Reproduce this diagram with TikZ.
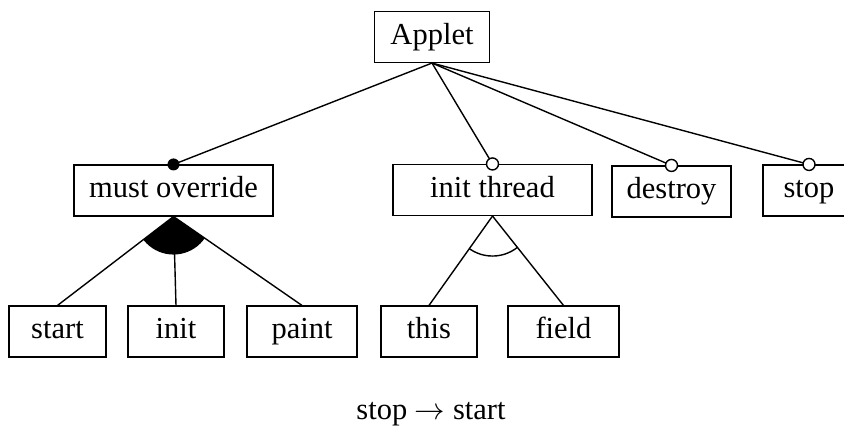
\documentclass[tikz,border=0pt]{standalone}
\usepackage{fontspec}
\setmainfont{Liberation Serif}
\begin{document}
\begin{tikzpicture}%
	[x=0.3934pt,
	y=-0.3934pt,
	feature/.style={draw=black, line width=0.5pt, minimum height=20pt, inner sep=0pt, text height=8.4pt, text depth=2.8pt, font=\fontsize{12}{14}\selectfont},
	edge/.style={color=black, line width=0.55pt},
	mandatory/.style={fill=black},
	optional/.style={fill=white, draw=black, line width=0.55pt}]
	\useasboundingbox (0,0) rectangle (844,436);
	%
	%% Features:
	%%
	\node[feature, minimum width=45.2pt] (applet) at (432,37) {Applet};
	\node[feature, minimum width=78.3pt] (override) at (173.5,190.5) {must override};
	\node[feature, minimum width=78.3pt] (thread) at (492.5,190) {init thread};
	\node[feature, minimum width=46.8pt] (destroy) at (671.5,191.5) {destroy};
	\node[feature, minimum width=36.2pt] (stop) at (809,190.5) {stop};
	\node[feature, minimum width=38.2pt] (start) at (57.5,331.5) {start};
	\node[feature, minimum width=37.8pt] (init) at (176,331.5) {init};
	\node[feature, minimum width=43.3pt] (paint) at (302,331.5) {paint};
	\node[feature, minimum width=37.8pt] (this) at (429,331.5) {this};
	\node[feature, minimum width=43.7pt] (field) at (563.5,331.5) {field};
	%%
	%% Edges from the root
	%%
	\draw[edge] (applet.south) -- (override.north);
	\draw[edge] (applet.south) -- (thread.north);
	\draw[edge] (applet.south) -- (destroy.north);
	\draw[edge] (applet.south) -- (stop.north);
	\fill[mandatory] (override.north) circle (6);
	\draw[optional] (thread.north) circle (6);
	\draw[optional] (destroy.north) circle (6);
	\draw[optional] (stop.north) circle (6);
	%%
	%% Or group
	%%
	\draw[edge] (override.south) -- (start.north);
	\draw[edge] (override.south) -- (init.north);
	\draw[edge] (override.south) -- (paint.north);
	\begin{scope}
		\clip (override.south) -- (start.north) -- (paint.north) -- cycle;
		\fill[mandatory] (override.south) circle (38);
	\end{scope}
	%%
	%% Alternative group
	%%
	\draw[edge] (thread.south) -- (this.north);
	\draw[edge] (thread.south) -- (field.north);
	\begin{scope}
		\clip (thread.south) -- (this.north) -- (field.north) -- cycle;
		\draw[edge] (thread.south) circle (40);
	\end{scope}
	%%
	%% Constraint
	%%
	\node[font=\fontsize{12}{14}\selectfont] (rule) at (431,414) {stop $\rightarrow$ start};
\end{tikzpicture}
\end{document}
